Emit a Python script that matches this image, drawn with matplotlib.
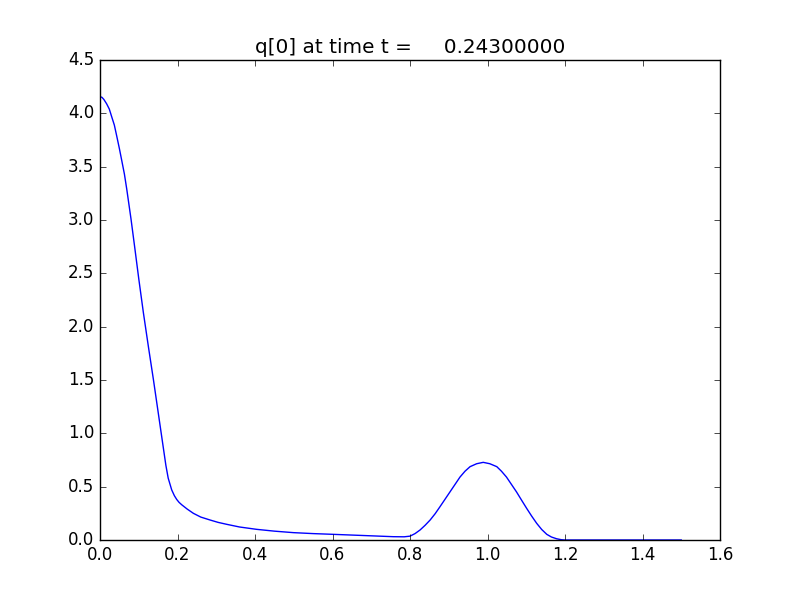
import matplotlib
matplotlib.use("Agg")
import matplotlib.pyplot as plt

plt.style.use('classic')

title = "q[0] at time t =     0.24300000"
x_vals = [0.000, 0.005, 0.010, 0.017, 0.024, 0.030, 0.037, 0.043, 0.050, 0.056,
          0.063, 0.069, 0.080, 0.089, 0.100, 0.112,
          0.125, 0.138, 0.150, 0.162, 0.170, 0.176, 0.185, 0.192, 0.198, 0.204, 0.211,
          0.225, 0.241, 0.260, 0.284, 0.305, 0.327, 0.36, 0.404, 0.45, 0.499,
          0.55, 0.602, 0.68, 0.757, 0.785, 0.80, 0.813, 0.826, 0.839, 0.852,
          0.865, 0.877, 0.890, 0.903, 0.916, 0.929, 0.942, 0.955, 0.972, 0.989,
          1.006, 1.024, 1.036, 1.049, 1.062, 1.075, 1.088, 1.101, 1.114, 1.127,
          1.140, 1.153, 1.165, 1.178, 1.19, 1.2, 1.3, 1.4, 1.5]
q_vals = [4.156, 4.15, 4.13, 4.09, 4.04, 3.97, 3.89, 3.79, 3.67, 3.56,
          3.43, 3.29, 3.01, 2.76, 2.45, 2.13,
          1.81, 1.50, 1.20, 0.90, 0.70, 0.58, 0.47, 0.415, 0.38, 0.353, 0.33,
          0.29, 0.25, 0.215, 0.1875, 0.165, 0.147, 0.122, 0.100, 0.083, 0.069,
          0.060, 0.053, 0.042, 0.031, 0.030, 0.036, 0.060, 0.094, 0.138, 0.1875,
          0.247, 0.31, 0.38, 0.45, 0.52, 0.59, 0.645, 0.6875, 0.715, 0.728,
          0.715, 0.6875, 0.645, 0.59, 0.52, 0.45, 0.373, 0.297, 0.224, 0.156,
          0.098, 0.053, 0.028, 0.012, 0.003, 0.0, 0.0, 0.0, 0.0]

fig = plt.figure(figsize=(8, 6), dpi=100)
ax = fig.add_subplot(111)
ax.plot(x_vals, q_vals, color='b', linewidth=1)
ax.set_xlim(0, 1.6)
ax.set_ylim(0, 4.5)
ax.set_title(title)
fig.savefig("out.png", dpi=100)
